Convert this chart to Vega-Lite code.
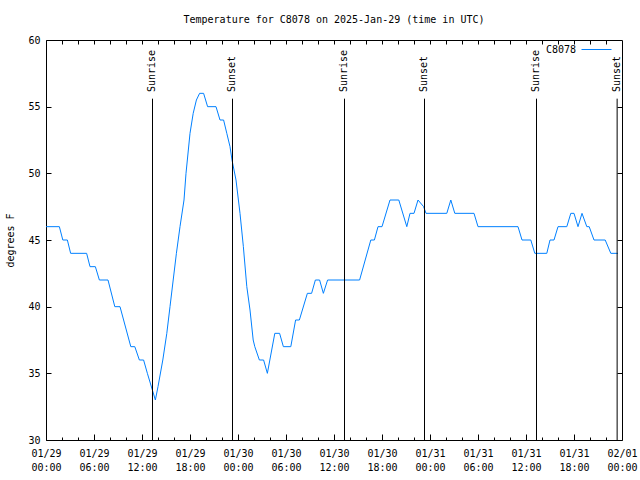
{
  "$schema": "https://vega.github.io/schema/vega-lite/v6.json",
  "width": 576,
  "height": 400,
  "autosize": {"type": "none"},
  "padding": {"left": 46, "top": 40, "right": 18, "bottom": 40},
  "background": "white",
  "title": {"text": "Temperature for C8078 on 2025-Jan-29 (time in UTC)", "font": "DejaVu Sans Mono", "fontSize": 10, "fontWeight": "normal", "color": "black", "offset": 9},
  "config": {
    "font": "DejaVu Sans Mono",
    "view": {"stroke": "black", "strokeWidth": 1},
    "axis": {"grid": false, "domain": false, "labelFont": "DejaVu Sans Mono", "labelFontSize": 10, "labelColor": "black", "tickColor": "black", "titleFont": "DejaVu Sans Mono", "titleFontSize": 10, "titleFontWeight": "normal", "titleColor": "black"}
  },
  "datasets": {
    "temps": [
      {"hour": 0, "temp": 46}, {"hour": 1.67, "temp": 46}, {"hour": 2.1, "temp": 45}, {"hour": 2.67, "temp": 45},
      {"hour": 3.08, "temp": 44}, {"hour": 5.08, "temp": 44}, {"hour": 5.5, "temp": 43}, {"hour": 6.17, "temp": 43},
      {"hour": 6.67, "temp": 42}, {"hour": 7.75, "temp": 42}, {"hour": 8.6, "temp": 40}, {"hour": 9.25, "temp": 40},
      {"hour": 10.6, "temp": 37}, {"hour": 11.1, "temp": 37}, {"hour": 11.67, "temp": 36}, {"hour": 12.2, "temp": 36},
      {"hour": 12.67, "temp": 35}, {"hour": 13.67, "temp": 33}, {"hour": 14.0, "temp": 34}, {"hour": 14.6, "temp": 36},
      {"hour": 15.1, "temp": 38}, {"hour": 15.5, "temp": 40}, {"hour": 15.9, "temp": 42}, {"hour": 16.3, "temp": 44},
      {"hour": 16.75, "temp": 46}, {"hour": 17.25, "temp": 48}, {"hour": 17.5, "temp": 50}, {"hour": 18.0, "temp": 53},
      {"hour": 18.4, "temp": 54.5}, {"hour": 18.8, "temp": 55.5}, {"hour": 19.2, "temp": 56}, {"hour": 19.7, "temp": 56},
      {"hour": 20.2, "temp": 55}, {"hour": 21.25, "temp": 55}, {"hour": 21.75, "temp": 54}, {"hour": 22.2, "temp": 54},
      {"hour": 22.6, "temp": 53}, {"hour": 23.0, "temp": 52}, {"hour": 23.25, "temp": 51}, {"hour": 23.75, "temp": 49.5},
      {"hour": 24.25, "temp": 47}, {"hour": 24.67, "temp": 44.5}, {"hour": 25.1, "temp": 41.5}, {"hour": 25.5, "temp": 39.75},
      {"hour": 25.9, "temp": 37.5}, {"hour": 26.1, "temp": 37}, {"hour": 26.67, "temp": 36}, {"hour": 27.2, "temp": 36},
      {"hour": 27.67, "temp": 35}, {"hour": 28.6, "temp": 38}, {"hour": 29.2, "temp": 38}, {"hour": 29.67, "temp": 37},
      {"hour": 30.6, "temp": 37}, {"hour": 31.2, "temp": 39}, {"hour": 31.67, "temp": 39}, {"hour": 32.67, "temp": 41},
      {"hour": 33.2, "temp": 41}, {"hour": 33.67, "temp": 42}, {"hour": 34.2, "temp": 42}, {"hour": 34.67, "temp": 41},
      {"hour": 35.2, "temp": 42}, {"hour": 39.2, "temp": 42}, {"hour": 40.6, "temp": 45}, {"hour": 41.05, "temp": 45},
      {"hour": 41.5, "temp": 46}, {"hour": 42.0, "temp": 46}, {"hour": 43.0, "temp": 48}, {"hour": 44.1, "temp": 48},
      {"hour": 45.1, "temp": 46}, {"hour": 45.5, "temp": 47}, {"hour": 46.0, "temp": 47}, {"hour": 46.5, "temp": 48},
      {"hour": 47.2, "temp": 47.5}, {"hour": 47.5, "temp": 47}, {"hour": 50.1, "temp": 47}, {"hour": 50.6, "temp": 48},
      {"hour": 51.1, "temp": 47}, {"hour": 53.5, "temp": 47}, {"hour": 54.0, "temp": 46}, {"hour": 59.0, "temp": 46},
      {"hour": 59.5, "temp": 45}, {"hour": 60.6, "temp": 45}, {"hour": 61.1, "temp": 44}, {"hour": 62.6, "temp": 44},
      {"hour": 63.0, "temp": 45}, {"hour": 63.5, "temp": 45}, {"hour": 64.0, "temp": 46}, {"hour": 65.1, "temp": 46},
      {"hour": 65.6, "temp": 47}, {"hour": 66.0, "temp": 47}, {"hour": 66.5, "temp": 46}, {"hour": 67.0, "temp": 47},
      {"hour": 67.6, "temp": 46}, {"hour": 67.9, "temp": 46}, {"hour": 68.5, "temp": 45}, {"hour": 69.9, "temp": 45},
      {"hour": 70.6, "temp": 44}, {"hour": 71.5, "temp": 44}
    ],
    "events": [
      {"hour": 13.25, "label": "Sunrise"},
      {"hour": 23.25, "label": "Sunset"},
      {"hour": 37.25, "label": "Sunrise"},
      {"hour": 47.25, "label": "Sunset"},
      {"hour": 61.25, "label": "Sunrise"},
      {"hour": 71.33, "label": "Sunset"}
    ]
  },
  "resolve": {"axis": {"x": "independent", "y": "independent"}},
  "layer": [
    {
      "data": {"name": "temps"},
      "mark": {"type": "line", "strokeWidth": 1},
      "encoding": {
        "x": {"field": "hour", "type": "quantitative",
          "scale": {"domain": [0, 72], "nice": false, "zero": false},
          "axis": {"orient": "bottom", "title": null, "values": [0, 6, 12, 18, 24, 30, 36, 42, 48, 54, 60, 66, 72], "tickSize": -6, "labelPadding": 14, "labelFlush": false, "labelOverlap": false, "labelLineHeight": 14,
            "labelExpr": "[['01/29', '01/30', '01/31', '02/01'][floor(datum.value / 24)], (datum.value % 24 < 10 ? '0' : '') + (datum.value % 24) + ':00']"}},
        "y": {"field": "temp", "type": "quantitative",
          "scale": {"domain": [30, 60], "nice": false, "zero": false},
          "axis": {"orient": "left", "title": "degrees F", "values": [30, 35, 40, 45, 50, 55, 60], "tickSize": -5, "labelPadding": 11, "titlePadding": 12}},
        "color": {"datum": "C8078", "type": "nominal", "scale": {"range": ["#0080ff"]},
          "legend": {"title": null, "orient": "none", "legendX": 535, "legendY": -6, "padding": 0, "symbolType": "stroke", "symbolSize": 900, "symbolStrokeWidth": 1, "labelAlign": "right", "labelOffset": -36, "labelFontSize": 10, "labelFont": "DejaVu Sans Mono", "labelColor": "black"}}
      }
    },
    {
      "data": {"name": "events"},
      "mark": {"type": "rule", "color": "black", "strokeWidth": 1, "xOffset": 0.5},
      "encoding": {
        "x": {"field": "hour", "type": "quantitative",
          "axis": {"orient": "top", "title": null, "labels": false, "values": [2, 4, 6, 8, 10, 12, 14, 16, 18, 20, 22, 24, 26, 28, 30, 32, 34, 36, 38, 40, 42, 44, 46, 48, 50, 52, 54, 56, 58, 60, 62, 64, 66, 68, 70], "tickSize": -4}},
        "y": {"datum": 55.6, "type": "quantitative",
          "axis": {"orient": "right", "title": null, "labels": false, "values": [35, 40, 45, 50, 55], "tickSize": -5}},
        "y2": {"datum": 30}
      }
    },
    {
      "data": {"name": "events"},
      "mark": {"type": "text", "angle": 270, "align": "left", "baseline": "middle", "fontSize": 10, "font": "DejaVu Sans Mono", "color": "black"},
      "encoding": {
        "x": {"field": "hour", "type": "quantitative",
          "axis": {"orient": "bottom", "title": null, "labels": false, "values": [2, 4, 8, 10, 14, 16, 20, 22, 26, 28, 32, 34, 38, 40, 44, 46, 50, 52, 56, 58, 62, 64, 68, 70], "tickSize": -3}},
        "y": {"datum": 56.1, "type": "quantitative", "axis": null},
        "text": {"field": "label"}
      }
    }
  ]
}
